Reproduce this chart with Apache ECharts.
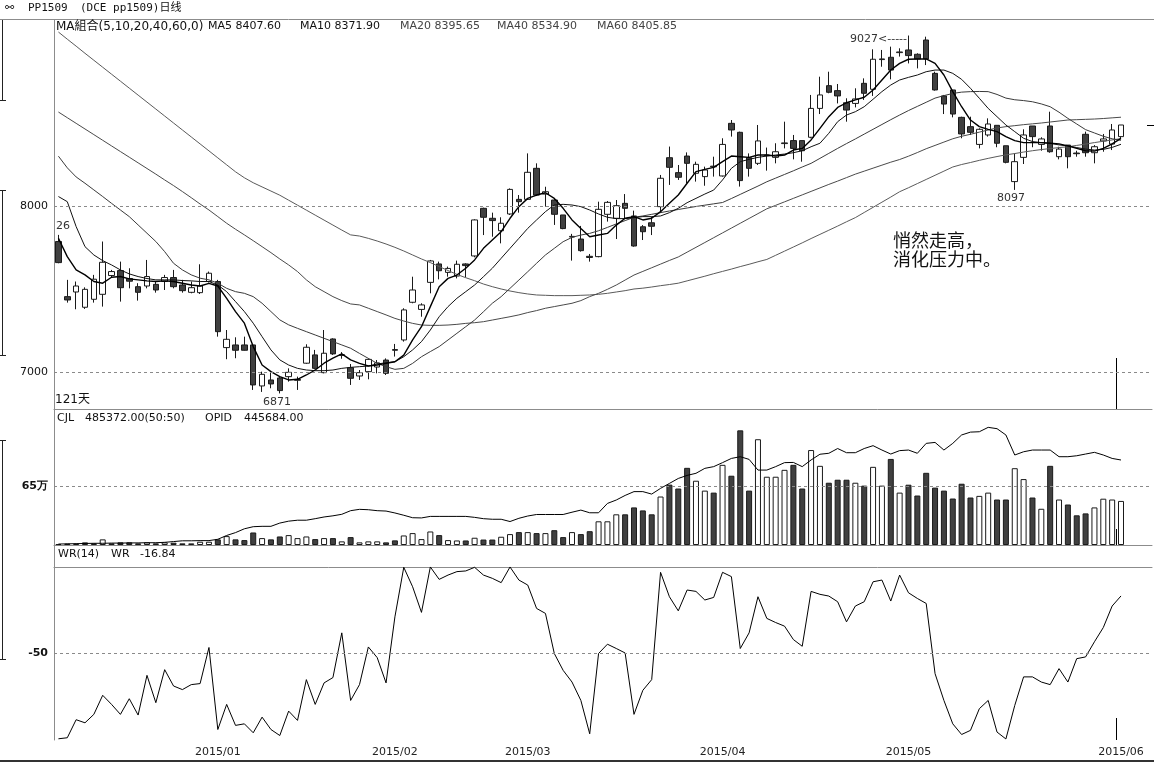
<!DOCTYPE html>
<html><head><meta charset="utf-8">
<script src="https://cdn.jsdelivr.net/npm/echarts@6/dist/echarts.min.js"></script>
<style>html,body{margin:0;padding:0;background:#fff}#c{width:1154px;height:763px}</style>
</head><body><div id="c"></div>
<script>
// ---- data ----
const opens = [7786,7454,7482,7390,7438,7468,7581,7611,7563,7514,7518,7528,7545,7569,7524,7480,7478,7545,7545,7147,
7163,7163,7163,6916,6952,6964,6972,6950,7053,7103,6996,7199,7100,7026,6976,7002,7030,7072,7135,7193,
7420,7377,7540,7651,7600,7578,7651,7699,7986,7926,7851,7952,8040,8040,8227,8072,8036,7946,7813,7801,
7697,7695,7950,7926,8016,7940,7875,7899,7996,8291,8201,8301,8197,8177,8240,8181,8498,8444,8291,8257,
8303,8293,8376,8394,8394,8414,8588,8725,8695,8622,8618,8739,8703,8882,8896,8924,8940,8914,9000,8799,
8663,8699,8534,8478,8371,8428,8486,8363,8147,8293,8482,8371,8482,8297,8367,8319,8432,8321,8392,8373,8418];
const closes = [7659,7434,7518,7498,7559,7661,7605,7508,7547,7480,7575,7494,7569,7514,7490,7508,7518,7595,7243,7197,
7131,7131,6922,6986,6928,6888,6998,6955,7149,7022,7113,7109,7104,6962,6996,7076,7055,6992,7131,7374,
7494,7404,7669,7610,7624,7649,7641,7916,7932,7912,7896,8100,8026,8203,8066,8086,7950,7864,7817,7731,
7690,7980,8022,8002,7986,7759,7845,7878,8167,8233,8173,8257,8251,8217,8236,8371,8458,8153,8227,8392,
8307,8327,8380,8347,8333,8588,8669,8685,8663,8578,8645,8679,8884,8886,8819,8928,8906,8886,8886,8699,
8614,8554,8434,8444,8462,8494,8378,8263,8267,8428,8418,8404,8327,8343,8297,8315,8321,8357,8404,8458,8488];
const lows = [7655,7418,7378,7380,7418,7394,7570,7424,7504,7430,7504,7478,7494,7504,7478,7474,7470,7539,7213,7077,
7083,7129,6892,6880,6902,6871,6942,6892,7049,7016,6992,7103,7080,6922,6952,6956,6992,6982,7093,7183,
7414,7333,7474,7558,7574,7564,7570,7691,7825,7815,7775,7946,7960,8036,8060,7996,7886,7860,7671,7725,
7665,7691,7906,7801,7926,7755,7795,7825,7960,8127,8157,8137,8147,8122,8177,8177,8418,8117,8177,8247,
8213,8257,8347,8281,8267,8408,8554,8679,8618,8508,8594,8639,8663,8839,8763,8900,8859,8829,8849,8695,
8554,8534,8408,8428,8347,8418,8354,8257,8097,8253,8354,8333,8321,8281,8227,8297,8297,8257,8327,8337,8408];
const highs = [7826,7555,7545,7510,7585,7786,7615,7665,7625,7535,7675,7545,7585,7615,7555,7545,7649,7605,7555,7253,
7209,7213,7163,7002,6996,6972,7022,6972,7167,7133,7253,7203,7120,7048,7012,7082,7072,7082,7169,7384,
7574,7414,7675,7665,7635,7671,7655,7920,7990,7960,7932,8106,8066,8317,8257,8116,8046,7946,7832,7880,
7711,8026,8030,8036,8072,7972,7885,7936,8187,8358,8247,8323,8267,8237,8297,8408,8518,8448,8317,8488,
8352,8378,8508,8428,8394,8669,8779,8809,8735,8649,8709,8769,8944,8940,8960,8950,9027,8920,9020,8809,
8669,8699,8538,8538,8468,8528,8486,8363,8317,8462,8482,8414,8568,8357,8367,8333,8448,8367,8434,8494,8488];
const ma5 = [7806,7695,7615,7585,7545,7535,7571,7575,7561,7555,7549,7545,7549,7545,7535,7524,7518,7534,7518,7444,
7364,7294,7153,7042,7002,6972,6952,6956,6982,7012,7053,7083,7109,7073,7052,7036,7042,7052,7062,7102,
7193,7273,7394,7514,7564,7584,7625,7675,7745,7795,7845,7926,7996,8046,8066,8080,8046,7986,7916,7865,
7815,7825,7835,7885,7926,7936,7916,7926,7966,8016,8066,8137,8207,8221,8233,8267,8301,8297,8293,8307,
8307,8301,8307,8337,8347,8398,8468,8538,8594,8622,8639,8655,8699,8759,8819,8859,8884,8886,8886,8859,
8789,8689,8598,8518,8478,8462,8448,8418,8394,8382,8382,8382,8378,8374,8362,8347,8333,8331,8347,8374,8407.6];
const ma10 = [8057,8026,7876,7755,7705,7671,7645,7615,7591,7575,7563,7555,7555,7555,7551,7549,7545,7545,7524,7484,
7424,7364,7294,7213,7133,7073,7042,7022,7012,7008,7008,7012,7022,7028,7032,7036,7048,7056,7062,7092,
7133,7183,7253,7333,7394,7444,7484,7524,7574,7625,7685,7745,7805,7865,7916,7966,8006,8010,8006,7996,
7976,7952,7932,7924,7924,7930,7936,7936,7940,7960,7986,8020,8046,8072,8096,8157,8227,8267,8281,8293,
8301,8307,8313,8321,8333,8357,8378,8438,8508,8548,8568,8598,8643,8689,8729,8759,8775,8789,8809,8819,
8819,8799,8763,8709,8649,8588,8538,8488,8448,8408,8388,8382,8378,8368,8362,8352,8343,8337,8341,8353,8371.9];
const ma20 = [8300,8230,8175,8137,8097,8057,8016,7976,7936,7886,7836,7786,7725,7655,7615,7585,7565,7555,7535,7504,
7484,7474,7454,7414,7364,7314,7284,7263,7243,7223,7203,7183,7163,7143,7112,7082,7052,7032,7016,7022,
7052,7092,7123,7153,7193,7233,7273,7313,7363,7414,7454,7504,7554,7604,7655,7705,7745,7785,7811,7825,
7835,7851,7871,7892,7912,7932,7940,7950,7960,7970,7979,7988,7997,8005,8013,8021,8045,8070,8095,8120,
8146,8168,8190,8212,8235,8257,8287,8317,8347,8376,8404,8433,8462,8491,8520,8548,8575,8600,8625,8650,
8665,8678,8686,8689,8690,8689,8672,8650,8640,8635,8628,8615,8598,8565,8528,8494,8460,8440,8420,8405,8395.65];
const ma40 = [8566,8532,8498,8464,8430,8396,8362,8328,8294,8260,8226,8192,8157,8123,8087,8050,8012,7976,7936,7896,
7860,7826,7791,7755,7719,7681,7645,7605,7555,7514,7484,7454,7430,7410,7404,7384,7364,7344,7323,7307,
7293,7283,7281,7281,7283,7287,7293,7297,7303,7313,7323,7333,7344,7358,7370,7384,7394,7404,7414,7430,
7454,7474,7498,7524,7554,7584,7606,7628,7650,7672,7693,7722,7751,7780,7809,7838,7867,7896,7925,7954,
7983,8004,8025,8046,8067,8088,8109,8130,8150,8171,8192,8210,8228,8246,8264,8280,8300,8322,8345,8365,
8385,8405,8420,8432,8445,8458,8470,8478,8484,8490,8495,8500,8506,8512,8518,8520,8522,8524,8527,8531,8534.9];
const ma60 = [9048,9005,8963,8920,8878,8836,8794,8752,8710,8668,8626,8584,8542,8500,8458,8416,8374,8332,8290,8248,
8206,8170,8140,8115,8090,8065,8035,8005,7975,7945,7915,7885,7855,7826,7819,7805,7789,7771,7751,7729,
7705,7681,7659,7635,7611,7588,7568,7550,7530,7514,7500,7488,7478,7470,7464,7462,7460,7460,7460,7462,
7464,7468,7474,7482,7490,7500,7505,7512,7520,7527,7535,7549,7563,7577,7592,7606,7620,7635,7649,7664,
7678,7703,7728,7753,7778,7804,7829,7854,7879,7905,7930,7961,7992,8023,8054,8086,8110,8135,8160,8185,
8210,8235,8250,8262,8275,8287,8298,8308,8316,8325,8333,8340,8346,8352,8357,8365,8373,8382,8390,8398,8405.85];
// volume and open interest, in units of 10,000 lots (万)
const volume = [1.0,1.5,1.5,2.9,1.8,6.2,1.8,2.9,2.9,1.8,2.9,1.8,2.9,2.5,1.8,1.8,3.6,3.6,6.2,9.8,
6.2,5.4,13.8,7.6,6.2,9.4,10.9,7.6,9.4,6.5,7.6,7.6,4.0,8.7,2.9,4.0,4.0,2.9,5.1,10.5,
13.1,6.5,14.9,10.9,5.4,5.0,5.0,8.0,6.0,6.0,9.1,12.0,14.2,14.2,13.1,13.1,16.3,8.7,14.2,12.0,
15.2,26.1,26.1,33.8,33.8,41.4,38.1,33.8,53.4,66.5,62.2,85.0,70.8,59.9,57.7,88.3,76.3,126.3,59.9,116.5,
75.2,75.2,82.8,88.3,62.2,104.6,87.2,68.6,71.9,71.9,68.6,65.4,86.1,65.4,94.8,57.7,66.4,54.5,79.5,63.2,
59.9,51.2,67.5,52.3,54.1,57.7,50.1,50.1,84.6,72.6,52.3,39.9,87.2,50.1,44.6,32.7,34.8,41.4,51.0,50.1,48.54];
const openInterest = [0.5,0.6,0.7,0.8,0.9,0.9,1.0,1.0,1.1,1.1,1.2,1.2,1.4,1.8,2.2,2.2,2.3,2.3,3.0,5.0,
6.5,8.5,9.6,9.8,9.8,11.5,12.5,13.0,13.0,13.8,14.7,15.3,16.1,18.0,18.7,18.5,18.0,17.8,16.8,15.6,
14.3,14.2,15.0,15.0,15.0,15.0,15.0,14.5,13.8,13.5,13.5,12.3,14.0,15.2,16.0,16.0,16.0,16.0,17.2,18.3,
16.9,16.9,21.8,23.6,26.0,28.0,28.0,26.7,29.7,32.3,34.9,36.5,37.6,40.2,41.1,43.2,45.4,46.3,44.9,39.3,
39.3,41.1,43.2,43.3,41.1,44.6,47.6,48.1,50.6,48.4,48.4,50.6,52.1,49.8,47.7,49.5,49.8,48.1,53.3,53.8,
49.8,53.3,57.7,59.2,59.4,61.7,61.0,57.7,47.2,48.9,49.8,49.8,49.8,46.3,46.3,46.8,47.7,48.6,47.2,45.4,44.57];
const wr = [-99.9,-99.3,-88.8,-90.6,-85.7,-74.6,-79.9,-85.7,-76.6,-86.1,-63.0,-78.9,-59.7,-69.2,-71.3,-68.4,-67.8,-46.8,-94.5,-79.9,
-92.1,-91.2,-96.4,-87.3,-94.5,-98.0,-83.8,-89.2,-65.5,-79.9,-67.4,-64.3,-38.3,-77.6,-68.4,-46.5,-52.7,-67.4,-29.0,-0.2,
-11.5,-26.4,0,-7.2,-4.7,-2.7,-2.3,-0.2,-4.7,-6.6,-9.1,0,-7.6,-10.5,-24.1,-27.0,-50.3,-60.1,-66.9,-77.6,
-97.0,-50.3,-44.9,-47.4,-50.0,-85.7,-71.7,-65.5,-3.1,-17.3,-25.5,-13.4,-14.2,-19.2,-17.7,-3.1,-5.6,-47.4,-38.3,-17.3,
-29.9,-32.3,-34.4,-42.2,-46.1,-14.2,-15.9,-16.9,-20.2,-31.9,-22.7,-20.2,-8.6,-7.6,-19.8,-4.7,-15.0,-18.3,-21.2,-62.0,
-77.6,-91.2,-97.4,-95.0,-82.4,-77.6,-96.0,-100,-80.5,-63.9,-63.9,-66.9,-68.4,-59.1,-66.9,-53.3,-52.3,-43.5,-35.2,-22.7,-16.84];
const tickIndex = [18, 38, 53, 75, 96, 120];
const tickText = ['2015/01', '2015/02', '2015/03', '2015/04', '2015/05', '2015/06'];
const padSlots = 3;
// ---- build ----
const categories = [];
for (let i = 0; i < opens.length + padSlots; i++) categories.push(String(i));
const kData = opens.map((o, i) => [o, closes[i], lows[i], highs[i]]);
const UP = '#ffffff', DOWN = '#404040', EDGE = '#1a1a1a';
const volData = volume.map((v, i) => ({
  value: v,
  itemStyle: { color: closes[i] >= opens[i] ? UP : DOWN, borderColor: EDGE, borderWidth: 1 }
}));
const FONT = 'DejaVu Sans';
const markDash = (vals) => ({
  silent: true, symbol: ['none', 'none'], animation: false,
  label: { show: false },
  lineStyle: { type: [3, 3], color: '#8a8a8a', width: 1 },
  data: vals.map(v => ({ yAxis: v }))
});
const grids = [
  { left: 54, right: 2, top: 20, height: 389 },
  { left: 54, right: 2, top: 410, height: 135 },
  { left: 54, right: 2, top: 546, height: 194 }
];
const xAxes = [0, 1, 2].map(g => ({
  type: 'category', gridIndex: g, data: categories, boundaryGap: true,
  axisLine: { show: true, lineStyle: { color: '#8c8c8c', width: 1 } },
  axisTick: { show: false },
  splitLine: { show: false },
  axisLabel: g === 2 ? {
    show: true, interval: (idx) => tickIndex.indexOf(idx) >= 0,
    formatter: (v, idx) => { const k = tickIndex.indexOf(idx); return k >= 0 ? tickText[k] : ''; },
    color: '#222', fontSize: 11, fontFamily: FONT, margin: 7
  } : { show: false }
}));
const yLab = (vals, fmt, bold) => ({
  show: true, customValues: vals, formatter: fmt, color: '#111', fontSize: 11,
  fontFamily: FONT, margin: 6, fontWeight: bold ? 'bold' : 'normal'
});
const yAxes = [
  { type: 'value', gridIndex: 0, min: 6777.1, max: 9120.5, axisLine: { show: true, lineStyle: { color: '#8c8c8c' } },
    axisTick: { show: false }, splitLine: { show: false }, axisLabel: yLab([7000, 8000], v => String(v)) },
  { type: 'value', gridIndex: 1, min: 0, max: 148.7, axisLine: { show: true, lineStyle: { color: '#8c8c8c' } },
    axisTick: { show: false }, splitLine: { show: false }, axisLabel: yLab([65], v => v + '万', true) },
  { type: 'value', gridIndex: 1, min: 0, max: 70.8, show: false },
  { type: 'value', gridIndex: 2, min: -100.6, max: 12.2, axisLine: { show: true, lineStyle: { color: '#8c8c8c' } },
    axisTick: { show: false }, splitLine: { show: false }, axisLabel: yLab([-50], v => String(v), true) }
];
const maLine = (name, data, color, w) => ({
  name, type: 'line', xAxisIndex: 0, yAxisIndex: 0, data, showSymbol: false, symbol: 'none',
  lineStyle: { color, width: w }, silent: true, z: 3
});
const txt = (x, y, s, opt) => ({ type: 'text', left: x, top: y, silent: true,
  style: Object.assign({ text: s, fill: '#111', font: '11px ' + FONT }, opt || {}) });
const ln = (x1, y1, x2, y2, c, w) => ({ type: 'line', silent: true,
  shape: { x1, y1, x2, y2 }, style: { stroke: c || '#000', lineWidth: w || 1 } });
const chart = echarts.init(document.getElementById('c'), null, { renderer: 'canvas' });
chart.setOption({
  animation: false,
  backgroundColor: '#ffffff',
  grid: grids,
  xAxis: xAxes,
  yAxis: yAxes,
  series: [
    { type: 'candlestick', xAxisIndex: 0, yAxisIndex: 0, data: kData, barWidth: 6,
      itemStyle: { color: UP, color0: DOWN, borderColor: EDGE, borderColor0: EDGE, borderWidth: 1 },
      markLine: markDash([7000, 8000]), z: 2 },
    maLine('MA60', ma60, '#5a5a5a', 1),
    maLine('MA40', ma40, '#4a4a4a', 1),
    maLine('MA20', ma20, '#3a3a3a', 1),
    maLine('MA10', ma10, '#111111', 1),
    maLine('MA5', ma5, '#000000', 1.4),
    { type: 'bar', xAxisIndex: 1, yAxisIndex: 1, data: volData, barWidth: 6, markLine: markDash([65]) },
    { type: 'line', xAxisIndex: 1, yAxisIndex: 2, data: openInterest, showSymbol: false, symbol: 'none',
      lineStyle: { color: '#000', width: 1 }, z: 3 },
    { type: 'line', xAxisIndex: 2, yAxisIndex: 3, data: wr, showSymbol: false, symbol: 'none',
      lineStyle: { color: '#000', width: 1 }, markLine: markDash([-50]) }
  ],
  graphic: [
    ln(0, 19.5, 1154, 19.5, '#8c8c8c', 1),
    ln(0, 761, 1154, 761, '#333', 2),
    ln(2.5, 20, 2.5, 100, '#222', 1), ln(0, 100.5, 6, 100.5, '#222', 1),
    ln(2.5, 190, 2.5, 356, '#222', 1), ln(0, 190.5, 6, 190.5, '#222', 1), ln(0, 355.5, 6, 355.5, '#222', 1),
    ln(2.5, 440, 2.5, 660, '#222', 1), ln(0, 440.5, 6, 440.5, '#222', 1), ln(0, 659.5, 6, 659.5, '#222', 1),
    ln(1116.5, 358, 1116.5, 409, '#000', 1),
    ln(1116.5, 529, 1116.5, 545, '#000', 1),
    ln(1116.5, 718, 1116.5, 740, '#000', 1),
    ln(1147, 125.5, 1154, 125.5, '#000', 1),
    txt(5, 3, '⚯', { font: '11px DejaVu Sans' }),
    txt(28, 3, 'PP1509', { font: '11px DejaVu Sans Mono' }),
    txt(80, 3, '(DCE pp1509)日线', { font: '11px DejaVu Sans Mono, Noto Sans CJK SC' }),
    txt(56, 21, 'MA組合(5,10,20,40,60,0)', { font: '12px ' + FONT + ', Noto Sans CJK TC' }),
    txt(208, 21, 'MA5 8407.60'),
    txt(300, 21, 'MA10 8371.90'),
    txt(400, 21, 'MA20 8395.65', { fill: '#444' }),
    txt(497, 21, 'MA40 8534.90', { fill: '#444' }),
    txt(597, 21, 'MA60 8405.85', { fill: '#444' }),
    txt(57, 413, 'CJL'),
    txt(85, 413, '485372.00(50:50)'),
    txt(205, 413, 'OPID'),
    txt(244, 413, '445684.00'),
    txt(58, 549, 'WR(14)'),
    txt(111, 549, 'WR'),
    txt(140, 549, '-16.84'),
    txt(55, 394, '121天', { font: '12px ' + FONT + ', Noto Sans CJK SC' }),
    txt(263, 397, '6871', { fill: '#333' }),
    txt(56, 221, '26', { fill: '#333' }),
    txt(850, 34, '9027<-----', { fill: '#333' }),
    txt(997, 193, '8097', { fill: '#333' }),
    txt(893, 231, '悄然走高，', { font: '18px Noto Sans CJK SC' }),
    txt(893, 250, '消化压力中。', { font: '18px Noto Sans CJK SC' })
  ]
});
</script></body></html>
